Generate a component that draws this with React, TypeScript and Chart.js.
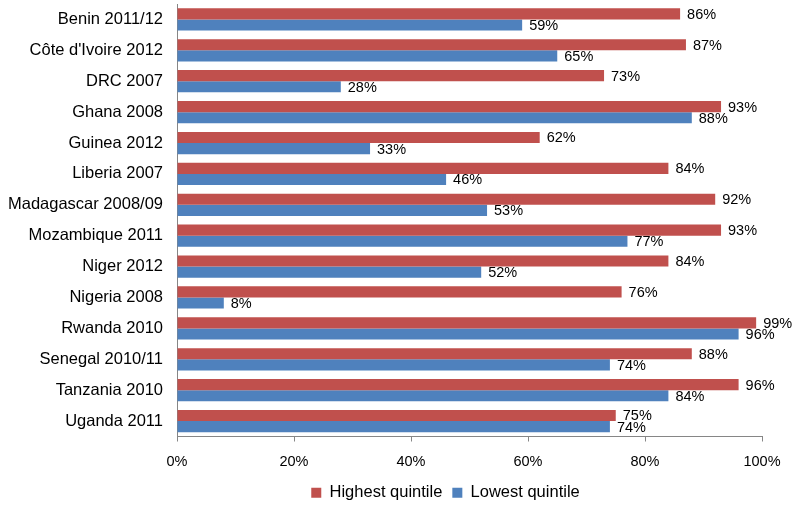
import React, { useEffect, useRef } from "react";
import { Chart, registerables } from "chart.js";

Chart.register(...registerables);

const categories = [
  "Benin 2011/12",
  "Côte d'Ivoire 2012",
  "DRC 2007",
  "Ghana 2008",
  "Guinea 2012",
  "Liberia 2007",
  "Madagascar 2008/09",
  "Mozambique 2011",
  "Niger 2012",
  "Nigeria 2008",
  "Rwanda 2010",
  "Senegal 2010/11",
  "Tanzania 2010",
  "Uganda 2011",
];
const highestQuintile = [86, 87, 73, 93, 62, 84, 92, 93, 84, 76, 99, 88, 96, 75];
const lowestQuintile = [59, 65, 28, 88, 33, 46, 53, 77, 52, 8, 96, 74, 84, 74];
const seriesNames = ["Highest quintile", "Lowest quintile"];
const xTicks = [0, 20, 40, 60, 80, 100];

const FONT = "'Liberation Sans', Arial, sans-serif";

const valueLabels = {
  id: "valueLabels",
  afterDatasetsDraw(chart: any) {
    const ctx = chart.ctx;
    ctx.save();
    ctx.font = `14.5px ${FONT}`;
    ctx.fillStyle = "#000";
    ctx.textAlign = "left";
    ctx.textBaseline = "middle";
    chart.data.datasets.forEach((ds: any, di: number) => {
      const meta = chart.getDatasetMeta(di);
      meta.data.forEach((bar: any, i: number) => {
        ctx.fillText(ds.data[i] + "%", bar.x + 7, bar.y + 1);
      });
    });
    ctx.restore();
  },
};

const legendShift = {
  id: "legendShift",
  afterLayout(chart: any) {
    if (chart.legend) {
      chart.legend.left -= 24;
      chart.legend.right -= 24;
    }
  },
};

export default function App() {
  const ref = useRef<HTMLCanvasElement>(null);
  useEffect(() => {
    const chart = new Chart(ref.current as HTMLCanvasElement, {
      type: "bar",
      data: {
        labels: categories,
        datasets: [
          {
            label: seriesNames[0],
            data: highestQuintile,
            backgroundColor: "#C0504D",
            categoryPercentage: 0.72,
            barPercentage: 1.0,
          },
          {
            label: seriesNames[1],
            data: lowestQuintile,
            backgroundColor: "#4F81BD",
            categoryPercentage: 0.72,
            barPercentage: 1.0,
          },
        ],
      },
      options: {
        indexAxis: "y",
        animation: false,
        responsive: false,
        maintainAspectRatio: false,
        layout: { padding: { top: 4, right: 35, bottom: -6, left: 0 } },
        scales: {
          x: {
            min: 0,
            max: 100,
            afterBuildTicks(scale: any) {
              scale.ticks = xTicks.map((v) => ({ value: v }));
            },
            afterFit(scale: any) {
              scale.height = 38;
              scale.paddingLeft = 0;
              scale.paddingRight = 0;
            },
            grid: {
              display: true,
              drawOnChartArea: false,
              drawTicks: true,
              tickLength: 5,
              color: "#868686",
            },
            border: { display: true, color: "#868686" },
            ticks: {
              padding: 12,
              color: "#000",
              font: { size: 14.5, family: FONT },
              callback: (v: any) => v + "%",
            },
          },
          y: {
            afterFit(scale: any) {
              scale.width = 177;
              scale.paddingTop = 0;
              scale.paddingBottom = 0;
            },
            grid: { display: false, drawTicks: false },
            border: { display: true, color: "#868686" },
            ticks: {
              padding: 14,
              color: "#000",
              font: { size: 16.5, family: FONT },
              autoSkip: false,
            },
          },
        },
        plugins: {
          legend: {
            position: "bottom",
            fullSize: false,
            labels: {
              boxWidth: 10,
              boxHeight: 10,
              padding: 10,
              color: "#000",
              font: { size: 16.5, family: FONT },
            },
          },
          tooltip: { enabled: false },
        },
      },
      plugins: [valueLabels, legendShift],
    } as any);
    return () => chart.destroy();
  }, []);
  return (
    <div style={{ position: "fixed", left: 0, top: 0, width: 797, height: 505, background: "#fff" }}>
      <canvas ref={ref} width={797} height={505} style={{ display: "block" }} />
    </div>
  );
}
